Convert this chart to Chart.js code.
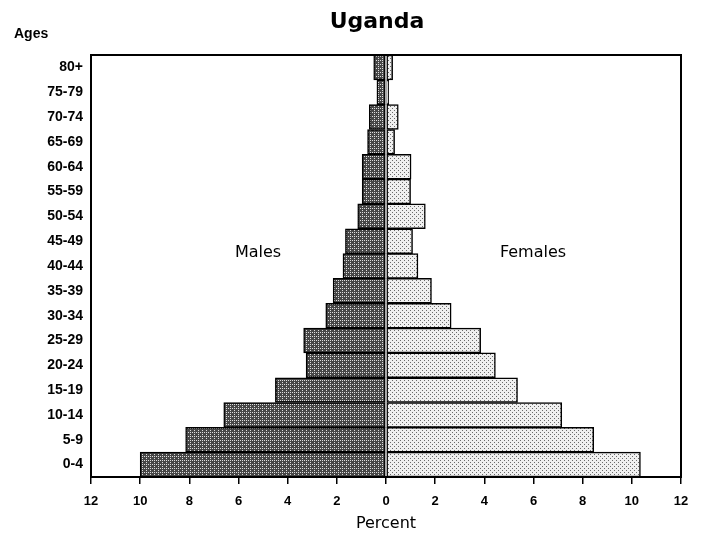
<!DOCTYPE html>
<html>
<head>
<meta charset="utf-8">
<script src="https://cdn.jsdelivr.net/npm/chart.js@4/dist/chart.umd.min.js"></script>
<style>
  html, body { margin: 0; padding: 0; background: #fff; }
  #wrap { width: 705px; height: 539px; }
</style>
</head>
<body>
<div id="wrap"><canvas id="chart-1"></canvas></div>
<script>
// age groups, youngest first (axis reversed so 0-4 sits at the bottom)
var ages = ['0-4', '5-9', '10-14', '15-19', '20-24', '25-29', '30-34', '35-39', '40-44',
            '45-49', '50-54', '55-59', '60-64', '65-69', '70-74', '75-79', '80+'];
var males = [10.0, 8.15, 6.6, 4.5, 3.25, 3.35, 2.45, 2.15, 1.75, 1.65, 1.15, 0.97, 0.97, 0.75, 0.68, 0.37, 0.5];
var females = [10.35, 8.45, 7.15, 5.35, 4.45, 3.85, 2.65, 1.85, 1.3, 1.08, 1.6, 1.0, 1.02, 0.35, 0.5, 0.11, 0.27];
var percentTicks = [-12, -10, -8, -6, -4, -2, 0, 2, 4, 6, 8, 10, 12];

var FONT = "'Liberation Sans', Arial, Helvetica, sans-serif";
var WIDE = "'DejaVu Sans', Verdana, sans-serif";

// dotted fills like the printed screen tones
function dotPattern(base, dot, cells) {
    var c = document.createElement('canvas');
    c.width = 4;
    c.height = 4;
    var g = c.getContext('2d');
    g.fillStyle = base;
    g.fillRect(0, 0, 4, 4);
    g.fillStyle = dot;
    cells.forEach(function (p) { g.fillRect(p[0], p[1], 1, 1); });
    return g.createPattern(c, 'repeat');
}
var maleFill = dotPattern('#474747', '#dddddd', [[0, 0], [2, 2], [2, 0]]);
var femaleFill = dotPattern('#f0f0f0', '#6a6a6a', [[0, 0], [2, 2]]);

// frame around the plot plus the title, Ages / Males / Females words
var extras = {
    id: 'extras',
    afterDraw: function (chart) {
        var ctx = chart.ctx;
        var a = chart.chartArea;
        ctx.save();
        ctx.strokeStyle = '#000';
        ctx.lineWidth = 2;
        ctx.strokeRect(a.left, a.top, a.right - a.left, a.bottom - a.top);
        ctx.fillStyle = '#000';
        ctx.textBaseline = 'alphabetic';
        ctx.textAlign = 'left';
        ctx.font = 'bold 14px ' + FONT;
        ctx.fillText('Ages', 14, 38);
        ctx.textAlign = 'center';
        ctx.font = '16px ' + WIDE;
        ctx.fillText('Males', 258, 257);
        ctx.fillText('Females', 533, 257);
        ctx.font = 'bold 22px ' + WIDE;
        ctx.fillText('Uganda', 377, 28);
        ctx.restore();
    }
};

new Chart(document.getElementById('chart-1'), {
    type: 'bar',
    data: {
        labels: ages,
        datasets: [{
            label: 'Males',
            data: males.map(function (v) { return -v; }),
            backgroundColor: maleFill,
            borderColor: '#000',
            borderWidth: 1.5,
            borderSkipped: false
        }, {
            label: 'Females',
            data: females,
            backgroundColor: femaleFill,
            borderColor: '#000',
            borderWidth: 1.5,
            borderSkipped: false
        }]
    },
    options: {
        indexAxis: 'y',
        responsive: true,
        maintainAspectRatio: false,
        animation: false,
        barPercentage: 1,
        categoryPercentage: 1,
        layout: {
            padding: { top: 55, right: 24, left: 0, bottom: 0 }
        },
        plugins: {
            legend: { display: false },
            tooltip: { enabled: false }
        },
        scales: {
            x: {
                stacked: true,
                min: -12,
                max: 12,
                afterBuildTicks: function (scale) {
                    scale.ticks = percentTicks.map(function (v) { return { value: v }; });
                },
                afterFit: function (scale) { scale.height = 62; },
                ticks: {
                    color: '#000',
                    padding: 10,
                    maxRotation: 0,
                    autoSkip: false,
                    font: { family: FONT, size: 13, weight: 'bold' },
                    callback: function (v) { return Math.abs(v); }
                },
                grid: {
                    drawOnChartArea: false,
                    drawTicks: true,
                    tickLength: 7,
                    color: '#000',
                    lineWidth: 1.5
                },
                border: { display: true, color: '#000', width: 2 },
                title: {
                    display: true,
                    text: 'Percent',
                    color: '#000',
                    font: { family: WIDE, size: 16 },
                    padding: { top: 0, bottom: 6 }
                }
            },
            y: {
                stacked: true,
                reverse: true,
                afterFit: function (scale) { scale.width = 91; },
                ticks: {
                    color: '#000',
                    padding: 8,
                    font: { family: FONT, size: 14, weight: 'bold' }
                },
                grid: { display: false, drawTicks: false },
                border: { display: true, color: '#000', width: 2 }
            }
        }
    },
    plugins: [extras]
});
</script>
</body>
</html>
